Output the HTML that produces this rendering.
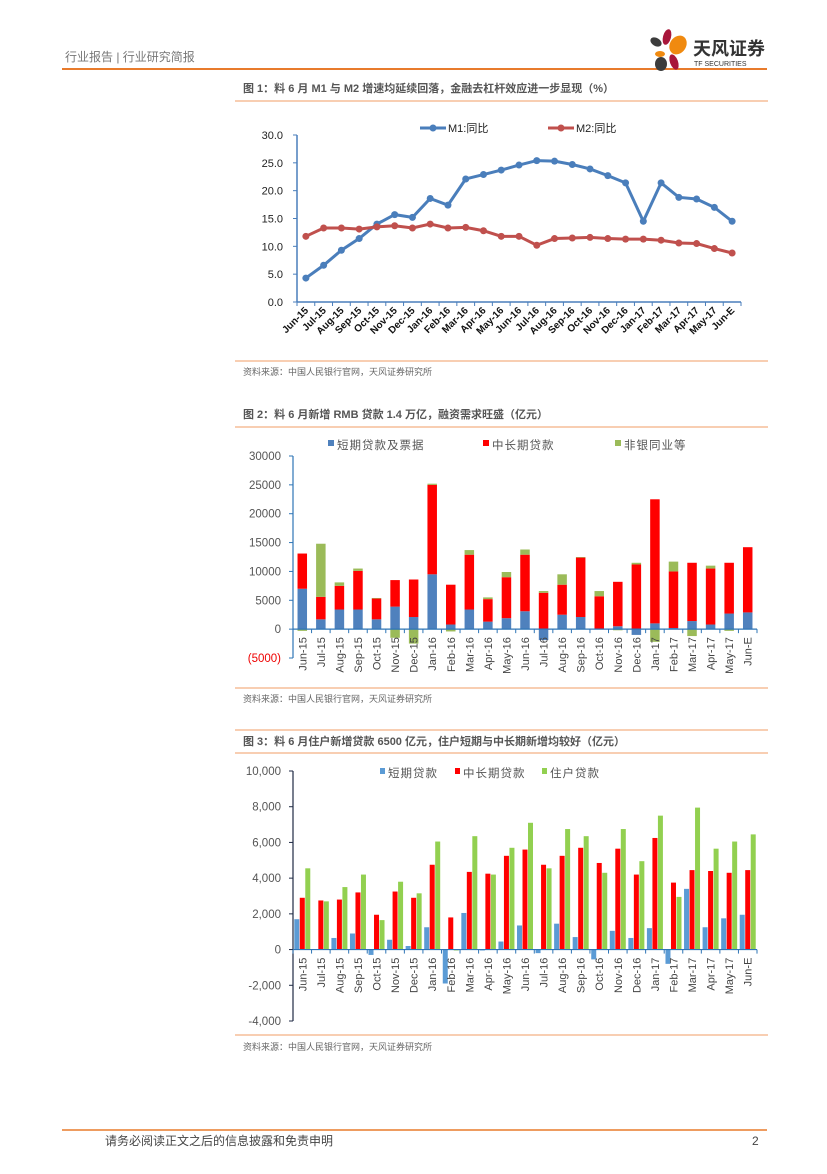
<!DOCTYPE html>
<html><head><meta charset="utf-8">
<style>
html,body{margin:0;padding:0;background:#fff;}
body{width:827px;height:1169px;overflow:hidden;font-family:"Liberation Sans","Noto Sans CJK SC",sans-serif;}
svg text{font-family:"Liberation Sans","Noto Sans CJK SC",sans-serif;}
</style></head>
<body>
<svg id="page" width="827" height="1169" viewBox="0 0 827 1169" xmlns="http://www.w3.org/2000/svg">
<g>
 <text x="65" y="61" font-size="12" fill="#777">行业报告 | 行业研究简报</text>
 <line x1="62" y1="69" x2="767" y2="69" stroke="#e87b2c" stroke-width="2"/>
 <g>
  <ellipse cx="667" cy="37" rx="4" ry="8" fill="#a8163a" transform="rotate(15 667 37)"/>
  <ellipse cx="656" cy="42" rx="6" ry="4" fill="#3c3c3c" transform="rotate(30 656 42)"/>
  <ellipse cx="678" cy="45" rx="8" ry="10" fill="#f08a10" transform="rotate(35 678 45)"/>
  <ellipse cx="660" cy="54" rx="5" ry="3" fill="#f08a10"/>
  <ellipse cx="674" cy="62" rx="4" ry="8" fill="#a8163a" transform="rotate(-20 674 62)"/>
  <ellipse cx="661" cy="64" rx="6" ry="7" fill="#3c3c3c"/>
  <text x="693" y="55" font-size="18" font-weight="bold" fill="#333">天风证券</text>
  <text x="694" y="66" font-size="7" fill="#333">TF SECURITIES</text>
 </g>
</g>

<text x="243" y="92" font-size="11" font-weight="bold" fill="#555">图 1：料 6 月 M1 与  M2 增速均延续回落，金融去杠杆效应进一步显现（%）</text>
<line x1="235" y1="101" x2="768" y2="101" stroke="#f4b183" stroke-width="1.2"/>
<g id="chart1"></g>
<line x1="235" y1="361" x2="768" y2="361" stroke="#f4b183" stroke-width="1.2"/>
<text x="243" y="375" font-size="9" fill="#666">资料来源：中国人民银行官网，天风证券研究所</text>

<text x="243" y="418" font-size="11" font-weight="bold" fill="#555">图 2：料 6 月新增 RMB 贷款 1.4 万亿，融资需求旺盛（亿元）</text>
<line x1="235" y1="427" x2="768" y2="427" stroke="#f4b183" stroke-width="1.2"/>
<g id="chart2"></g>
<line x1="235" y1="688" x2="768" y2="688" stroke="#f4b183" stroke-width="1.2"/>
<text x="243" y="702" font-size="9" fill="#666">资料来源：中国人民银行官网，天风证券研究所</text>

<line x1="235" y1="730" x2="768" y2="730" stroke="#f4b183" stroke-width="1.2"/>
<text x="243" y="745" font-size="11" font-weight="bold" fill="#555">图 3：料 6 月住户新增贷款 6500 亿元，住户短期与中长期新增均较好（亿元）</text>
<line x1="235" y1="753" x2="768" y2="753" stroke="#f4b183" stroke-width="1.2"/>
<g id="chart3"></g>
<line x1="235" y1="1035" x2="768" y2="1035" stroke="#f4b183" stroke-width="1.2"/>
<text x="243" y="1050" font-size="9" fill="#666">资料来源：中国人民银行官网，天风证券研究所</text>

<line x1="62" y1="1130" x2="767" y2="1130" stroke="#e87b2c" stroke-width="1.5"/>
<text x="105" y="1145" font-size="12" fill="#444">请务必阅读正文之后的信息披露和免责申明</text>
<text x="752" y="1145" font-size="12" fill="#444">2</text>
</svg>
<script>
const months = ["Jun-15","Jul-15","Aug-15","Sep-15","Oct-15","Nov-15","Dec-15","Jan-16","Feb-16","Mar-16","Apr-16","May-16","Jun-16","Jul-16","Aug-16","Sep-16","Oct-16","Nov-16","Dec-16","Jan-17","Feb-17","Mar-17","Apr-17","May-17","Jun-E"];
const m1Values = [4.3,6.6,9.3,11.4,14.0,15.7,15.2,18.6,17.4,22.1,22.9,23.7,24.6,25.4,25.3,24.7,23.9,22.7,21.4,14.5,21.4,18.8,18.5,17.0,14.5];
const m2Values = [11.8,13.3,13.3,13.1,13.5,13.7,13.3,14.0,13.3,13.4,12.8,11.8,11.8,10.2,11.4,11.5,11.6,11.4,11.3,11.3,11.1,10.6,10.5,9.6,8.8];
const chart1Ticks = ["0.0","5.0","10.0","15.0","20.0","25.0","30.0"];
const loanShort = [7000,1700,3400,3400,1700,3900,2100,9500,800,3400,1300,1900,3100,-1900,2500,2100,100,500,-1000,1000,200,1400,800,2700,2900];
const loanMid = [6100,3900,4100,6700,3600,4600,6500,15500,6900,9500,3900,7100,9800,6300,5200,10300,5600,7700,11200,21500,9800,10100,9700,8800,11300];
const loanNonbank = [-300,9200,600,400,100,-1500,-2500,200,-400,800,300,900,900,300,1800,100,900,-200,300,-2200,1700,-1200,500,-300,0];
const chart2Ticks = ["(5000)","0","5000","10000","15000","20000","25000","30000"];
const hhShort = [1700,0,650,900,-300,550,200,1250,-1900,2050,-50,450,1350,-200,1450,700,-550,1050,650,1200,-800,3400,1250,1750,1950];
const hhMid = [2900,2750,2800,3200,1950,3250,2900,4750,1800,4350,4250,5250,5600,4750,5250,5700,4850,5650,4200,6250,3750,4450,4400,4300,4450];
const hhHouse = [4550,2700,3500,4200,1650,3800,3150,6050,-50,6350,4200,5700,7100,4550,6750,6350,4300,6750,4950,7500,2950,7950,5650,6050,6450];
const chart3Ticks = ["-4,000","-2,000","0","2,000","4,000","6,000","8,000","10,000"];

const NS="http://www.w3.org/2000/svg";
function mk(parent,tag,attrs,text){const e=document.createElementNS(NS,tag);for(const k in attrs)e.setAttribute(k,attrs[k]);if(text!==undefined)e.textContent=text;parent.appendChild(e);return e;}

// Chart 1
(function(){
 const g=document.getElementById('chart1');
 const x0=297,x1=741,yTop=135,yBot=302,vmax=30;
 const n=months.length, step=(x1-x0)/n;
 const xs=i=>x0+step*(i+0.5);
 const ys=v=>yBot-(v/vmax)*(yBot-yTop);
 mk(g,'line',{x1:x0,y1:yTop,x2:x0,y2:yBot,stroke:'#4a7ebb','stroke-width':1.5});
 mk(g,'line',{x1:x0,y1:yBot,x2:x1,y2:yBot,stroke:'#4a7ebb','stroke-width':1.5});
 chart1Ticks.forEach((t,i)=>{const v=i*5;const y=ys(v);
  mk(g,'line',{x1:x0-4,y1:y,x2:x0,y2:y,stroke:'#4a7ebb'});
  const tx=mk(g,'text',{x:x0-14,y:y+4,'font-size':11,'text-anchor':'end',fill:'#222','font-family':'Liberation Mono, monospace'},t);
  
  
 });
 for(let i=0;i<=n;i++){const x=x0+step*i;mk(g,'line',{x1:x,y1:yBot,x2:x,y2:yBot+4,stroke:'#4a7ebb'});}
 months.forEach((m,i)=>{const x=xs(i)+3,y=yBot+9;
  const tx=mk(g,'text',{x:x,y:y,'font-size':10,'font-weight':'bold','text-anchor':'end',fill:'#111',transform:`rotate(-45 ${x} ${y})`},m);
  
  
 });
 [[m1Values,'#4a7ebb','m1-series'],[m2Values,'#c0504d','m2-series']].forEach(([vals,c,name])=>{
  const line=mk(g,'polyline',{points:vals.map((v,i)=>xs(i)+','+ys(v)).join(' '),fill:'none',stroke:c,'stroke-width':3});
  
  
  vals.forEach((v,i)=>{const p=mk(g,'circle',{cx:xs(i),cy:ys(v),r:3.5,fill:c});
   
   });
 });
 const lg=[[420,'#4a7ebb','M1:同比'],[548,'#c0504d','M2:同比']];
 lg.forEach(([lx,c,t])=>{
  mk(g,'line',{x1:lx,y1:128,x2:lx+26,y2:128,stroke:c,'stroke-width':3});
  mk(g,'circle',{cx:lx+13,cy:128,r:3.5,fill:c});
  const tx=mk(g,'text',{x:lx+28,y:132,'font-size':11,fill:'#222'},t);
  
  
 });
})();

// Chart 2
(function(){
 const g=document.getElementById('chart2');
 const x0=293,x1=757,yTop=456,yBot=658,vmin=-5000,vmax=30000;
 const n=months.length, step=(x1-x0)/n;
 const xs=i=>x0+step*(i+0.5);
 const ys=v=>yBot-(v-vmin)/(vmax-vmin)*(yBot-yTop);
 const y0=ys(0);
 mk(g,'line',{x1:x0,y1:yTop,x2:x0,y2:yBot,stroke:'#2e75b6','stroke-width':1.2});
 chart2Ticks.forEach((t,i)=>{const v=vmin+i*5000;const y=ys(v);
  mk(g,'line',{x1:x0-4,y1:y,x2:x0,y2:y,stroke:'#2e75b6'});
  const tx=mk(g,'text',{x:x0-12,y:y+4,'font-size':11.5,'text-anchor':'end',fill:v<0?'#e00':'#555'},t);
  
  
 });
 const bw=9.5;
 months.forEach((m,i)=>{const cx=xs(i);
  const s=loanShort[i],md=loanMid[i],nb=loanNonbank[i];
  let pos=0,neg=0;
  [[s,'#4f81bd','short-loan-bar'],[md,'#ff0000','mid-long-loan-bar'],[nb,'#9bbb59','nonbank-bar']].forEach(([v,c,name])=>{
   let a,b;
   if(v>=0){a=pos;b=pos+v;pos=b;}else{a=neg;b=neg+v;neg=b;}
   const yA=ys(Math.max(a,b)),yB=ys(Math.min(a,b));
   const r=mk(g,'rect',{x:cx-bw/2,y:yA,width:bw,height:Math.max(0,yB-yA),fill:c});
   
   
  });
  const x=cx+4,y=y0+8;
  const tx=mk(g,'text',{x:x,y:y,'font-size':11,'text-anchor':'end',fill:'#444',transform:`rotate(-90 ${x} ${y})`},m);
  
  
 });
 mk(g,'line',{x1:x0,y1:y0,x2:x1,y2:y0,stroke:'#2e75b6','stroke-width':1.2});
 for(let i=0;i<=n;i++){const x=x0+step*i;mk(g,'line',{x1:x,y1:y0,x2:x,y2:y0+4,stroke:'#2e75b6'});}
 [[328,'#4f81bd','短期贷款及票据'],[483,'#ff0000','中长期贷款'],[615,'#9bbb59','非银同业等']].forEach(([lx,c,t])=>{
  mk(g,'rect',{x:lx,y:440,width:6,height:6,fill:c});
  const tx=mk(g,'text',{x:lx+9,y:449,'font-size':11.5,fill:'#555','letter-spacing':'1'},t);
  
  
 });
})();

// Chart 3
(function(){
 const g=document.getElementById('chart3');
 const x0=293,x1=757,yTop=771,yBot=1021,vmin=-4000,vmax=10000;
 const n=months.length, step=(x1-x0)/n;
 const xs=i=>x0+step*(i+0.5);
 const ys=v=>yBot-(v-vmin)/(vmax-vmin)*(yBot-yTop);
 const y0=ys(0);
 mk(g,'line',{x1:x0,y1:yTop,x2:x0,y2:yBot,stroke:'#1f2a44','stroke-width':1.2});
 chart3Ticks.forEach((t,i)=>{const v=vmin+i*2000;const y=ys(v);
  mk(g,'line',{x1:x0-4,y1:y,x2:x0,y2:y,stroke:'#1f2a44'});
  const tx=mk(g,'text',{x:x0-12,y:y+4,'font-size':11.5,'text-anchor':'end',fill:'#555'},t);
  
  
 });
 const bw=5;
 months.forEach((m,i)=>{const cx=xs(i);
  [[hhShort[i],'#5b9bd5','short-term-bar',-1],[hhMid[i],'#ff0000','mid-long-term-bar',0],[hhHouse[i],'#92d050','household-bar',1]].forEach(([v,c,name,k])=>{
   const bx=cx-bw/2+k*(bw+0.5);
   const yA=ys(Math.max(0,v)),yB=ys(Math.min(0,v));
   const r=mk(g,'rect',{x:bx,y:yA,width:bw,height:Math.max(0,yB-yA),fill:c});
   
   
  });
  const x=cx+4,y=y0+8;
  const tx=mk(g,'text',{x:x,y:y,'font-size':11,'text-anchor':'end',fill:'#444',transform:`rotate(-90 ${x} ${y})`},m);
  
  
 });
 mk(g,'line',{x1:x0,y1:y0,x2:x1,y2:y0,stroke:'#2e75b6','stroke-width':1.2});
 for(let i=0;i<=n;i++){const x=x0+step*i;mk(g,'line',{x1:x,y1:y0,x2:x,y2:y0+4,stroke:'#2e75b6'});}
 [[380,'#5b9bd5','短期贷款'],[455,'#ff0000','中长期贷款'],[542,'#92d050','住户贷款']].forEach(([lx,c,t])=>{
  mk(g,'rect',{x:lx,y:768,width:5,height:6,fill:c});
  const tx=mk(g,'text',{x:lx+8,y:777,'font-size':11.5,fill:'#555','letter-spacing':'1'},t);
  
  
 });
})();
</script>
</body></html>
